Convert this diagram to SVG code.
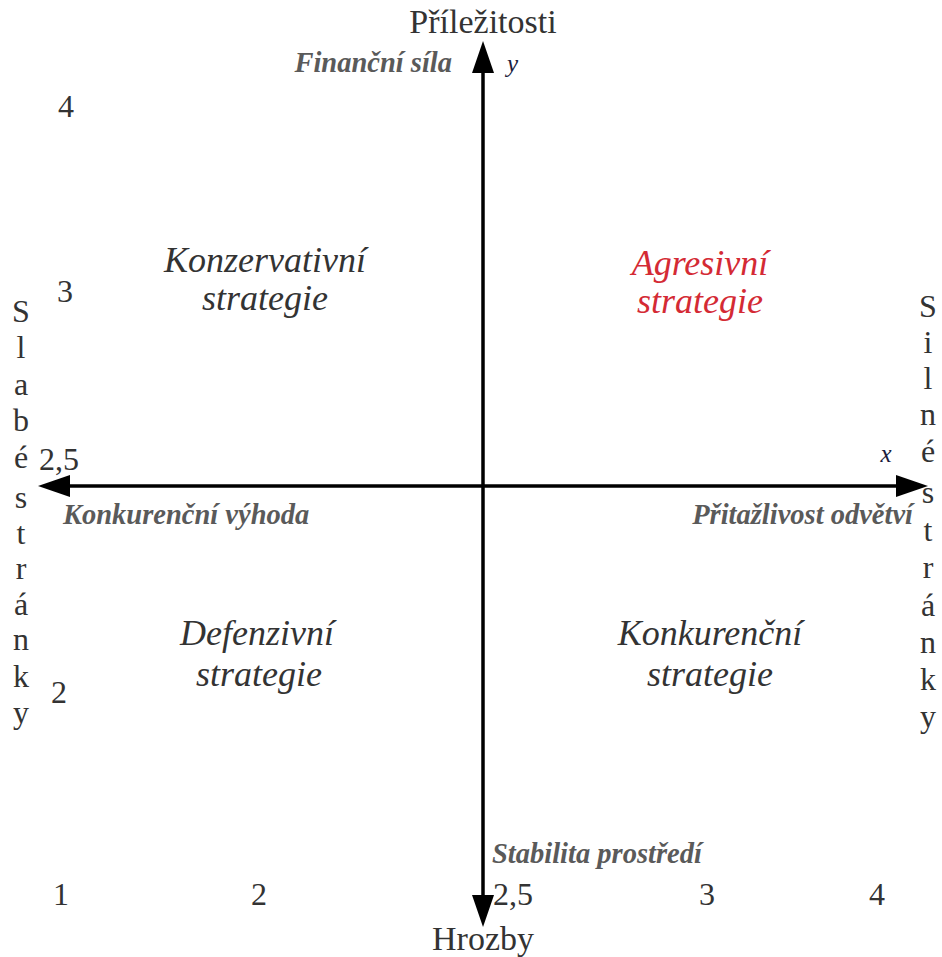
<svg xmlns="http://www.w3.org/2000/svg" width="942" height="957" viewBox="0 0 942 957">
<style>
  .t { font-family: "Liberation Serif", "Times New Roman", serif; fill: #333333; }
  .num { font-size: 32px; }
  .axis-title { font-size: 34px; }
  .vert { font-size: 32px; text-anchor: middle; }
  .quad { font-size: 36px; font-style: italic; text-anchor: middle; }
  .lab { font-size: 28.5px; font-style: italic; font-weight: bold; fill: #5a5a5a; }
  .var { font-size: 25px; font-style: italic; fill: #1c1c3c; }
  .ax { stroke: #000; stroke-width: 3.5; fill: none; }
</style>
<defs>
  <marker id="ah" markerUnits="userSpaceOnUse" viewBox="0 0 32 22" refX="0" refY="11" markerWidth="32" markerHeight="22" orient="auto">
    <path d="M0,0 L32,11 L0,22 z" fill="#000"/>
  </marker>
</defs>
<rect width="942" height="957" fill="#ffffff"/>

<g id="connectors">
  <line class="ax" x1="483" y1="486" x2="483" y2="73" marker-end="url(#ah)"/>
  <line class="ax" x1="483" y1="486" x2="483" y2="895" marker-end="url(#ah)"/>
  <line class="ax" x1="483" y1="486" x2="70" y2="486" marker-end="url(#ah)"/>
  <line class="ax" x1="483" y1="486" x2="896" y2="486" marker-end="url(#ah)"/>
</g>

<g id="axis-y-top">
  <text class="t axis-title" x="483" y="33" text-anchor="middle">Příležitosti</text>
  <text class="t lab" x="452" y="72" text-anchor="end">Finanční síla</text>
  <text class="t var" x="507" y="72">y</text>
</g>

<g id="axis-y-bottom">
  <text class="t lab" x="492" y="863">Stabilita prostředí</text>
  <text class="t axis-title" x="483" y="950" text-anchor="middle">Hrozby</text>
</g>

<g id="axis-x-left">
  <text class="t lab" x="63" y="524">Konkurenční výhoda</text>
</g>

<g id="axis-x-right">
  <text class="t var" x="886" y="462" text-anchor="middle">x</text>
  <text class="t lab" x="913" y="524" text-anchor="end">Přitažlivost odvětví</text>
</g>

<g id="scale-left">
  <text class="t num" x="66" y="117" text-anchor="middle">4</text>
  <text class="t num" x="65" y="302" text-anchor="middle">3</text>
  <text class="t num" x="39" y="470">2,5</text>
  <text class="t num" x="59" y="703" text-anchor="middle">2</text>
</g>

<g id="scale-bottom">
  <text class="t num" x="61" y="905" text-anchor="middle">1</text>
  <text class="t num" x="259" y="905" text-anchor="middle">2</text>
  <text class="t num" x="493" y="905">2,5</text>
  <text class="t num" x="707" y="905" text-anchor="middle">3</text>
  <text class="t num" x="877" y="905" text-anchor="middle">4</text>
</g>

<g id="label-left">
  <text class="t vert" x="21" y="322">S</text>
  <text class="t vert" x="21" y="358">l</text>
  <text class="t vert" x="21" y="395">a</text>
  <text class="t vert" x="21" y="431">b</text>
  <text class="t vert" x="21" y="468">é</text>
  <text class="t vert" x="21" y="508">s</text>
  <text class="t vert" x="21" y="544">t</text>
  <text class="t vert" x="21" y="579">r</text>
  <text class="t vert" x="21" y="615">á</text>
  <text class="t vert" x="21" y="650">n</text>
  <text class="t vert" x="21" y="687">k</text>
  <text class="t vert" x="21" y="723">y</text>
</g>

<g id="label-right">
  <text class="t vert" x="928" y="317">S</text>
  <text class="t vert" x="928" y="353">i</text>
  <text class="t vert" x="928" y="389">l</text>
  <text class="t vert" x="928" y="425">n</text>
  <text class="t vert" x="928" y="462">é</text>
  <text class="t vert" x="928" y="503">s</text>
  <text class="t vert" x="928" y="541">t</text>
  <text class="t vert" x="928" y="578">r</text>
  <text class="t vert" x="928" y="616">á</text>
  <text class="t vert" x="928" y="653">n</text>
  <text class="t vert" x="928" y="690">k</text>
  <text class="t vert" x="928" y="727">y</text>
</g>

<g id="quadrant-conservative">
  <text class="t quad" x="265" y="272">Konzervativní</text>
  <text class="t quad" x="265" y="310">strategie</text>
</g>

<g id="quadrant-aggressive">
  <text class="t quad" x="700" y="275" style="fill:#d42a34">Agresivní</text>
  <text class="t quad" x="700" y="313" style="fill:#d42a34">strategie</text>
</g>

<g id="quadrant-defensive">
  <text class="t quad" x="257" y="645">Defenzivní</text>
  <text class="t quad" x="259" y="686">strategie</text>
</g>

<g id="quadrant-competitive">
  <text class="t quad" x="710" y="645">Konkurenční</text>
  <text class="t quad" x="710" y="686">strategie</text>
</g>
</svg>
